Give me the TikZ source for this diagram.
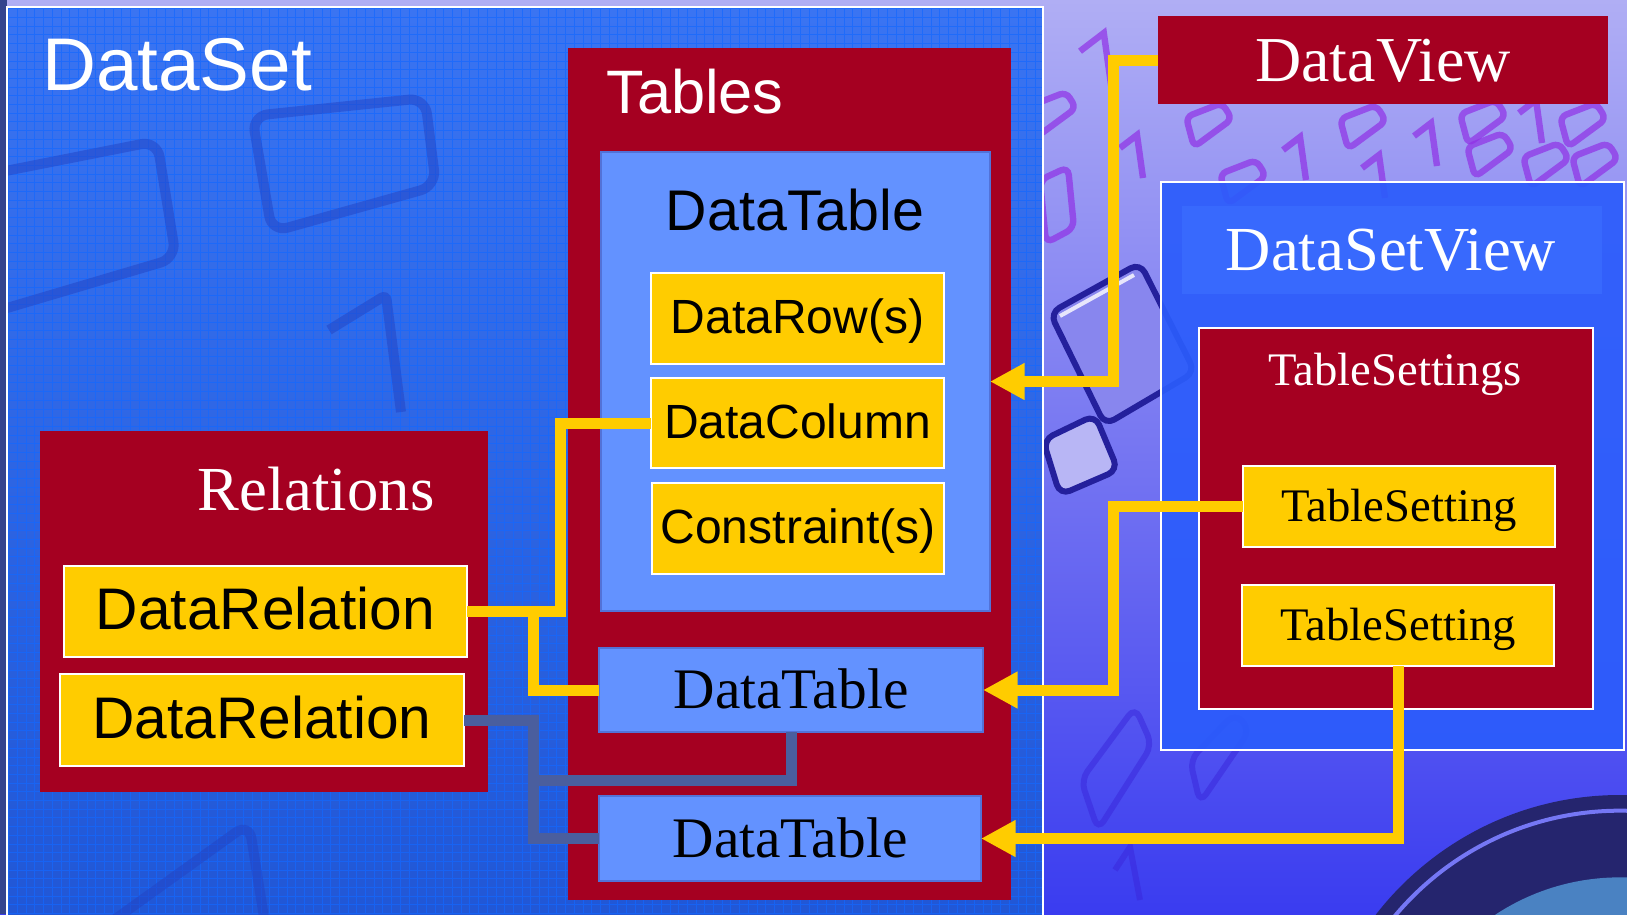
\documentclass[tikz,border=0pt]{standalone}
\usepackage{fontspec}
\setmainfont{Liberation Serif}
\newfontfamily\arialfont{Liberation Sans}
\usetikzlibrary{arrows.meta}

\definecolor{boxred}{HTML}{A50021}
\definecolor{gold}{HTML}{FFCC00}
\definecolor{paleblue}{HTML}{6392FF}
\definecolor{edgeblue}{HTML}{5272D8}
\definecolor{linkgray}{HTML}{4A5E9E}
\definecolor{lavtop}{HTML}{B0AEF4}
\definecolor{lavmid}{HTML}{8A88F2}
\definecolor{violetlow}{HTML}{3A3CF0}
\definecolor{setblue}{HTML}{3A74F2}
\definecolor{setbluelow}{HTML}{2157D6}
\definecolor{gridblue}{HTML}{1468FF}
\definecolor{edgestrip}{HTML}{34448E}
\definecolor{digitblue}{HTML}{2243C4}
\definecolor{digitpurple}{HTML}{9030E6}
\definecolor{digitviolet}{HTML}{3A28DC}
\definecolor{viewblue}{HTML}{2B5CFB}
\definecolor{viewband}{HTML}{3C70FF}
\definecolor{diskdark}{HTML}{25256E}
\definecolor{diskface}{HTML}{4A82C2}
\definecolor{diskettefill}{HTML}{8886EE}
\definecolor{disketteline}{HTML}{24209C}

\newcommand\sansat[1]{\arialfont\fontsize{#1}{#1}\selectfont}
\newcommand\serifat[1]{\rmfamily\fontsize{#1}{#1}\selectfont}

\tikzset{
  glyphline/.style={draw=digitpurple, line width=4.8pt, opacity=0.7},
  zeroglyph/.pic={\draw[glyphline, rounded corners=5pt]
      (0,14) -- (36,0) -- (46,16) -- (8,44) -- cycle;},
  oneglyph/.pic={\draw[glyphline]
      (0,13) -- (17,0) -- (23,43);}
}

\begin{document}
\begin{tikzpicture}[x=0.75pt,y=-0.75pt,
  px/.style 2 args={minimum width=#1*0.75pt, minimum height=#2*0.75pt, inner sep=0pt, outer sep=0pt},
  redbox/.style={fill=boxred},
  goldbox/.style={fill=gold, draw=white, line width=1.5pt},
  tablebox/.style={fill=paleblue, draw=edgeblue, line width=1.5pt},
  whitetext/.style={text=white, inner sep=0pt},
  link/.style={draw=gold, line width=8.25pt},
  linkarrow/.style={link, -{Triangle[length=26pt,width=26pt]}},
  relink/.style={draw=linkgray, line width=8.25pt},
  bgdigit/.style={draw=digitblue, line width=7.5pt, rounded corners=12pt, opacity=0.5},
]
\useasboundingbox (0,0) rectangle (1627,914);

% ---- backdrop ----
\shade[top color=lavtop, middle color=lavmid, bottom color=violetlow] (0,0) rectangle (1627,914);
\begin{scope}
  \clip (1043,0) rectangle (1627,914);
  % disc in the lower right corner
  \fill[diskdark] (1620,1104) circle[radius=231.75pt];
  \draw[violetlow!70!white, line width=3pt] (1620,1104) circle[radius=220pt];
  \fill[diskface] (1620,1104) circle[radius=170pt];
  % binary digits under the DataView box
  \foreach \x/\y in {1186/103,1340/105,1460/100,1560/103,1467/133,1523/143,1572/143,1220/160,1030/92}
    \pic at (\x,\y) {zeroglyph};
  \foreach \x/\y in {1283/137,1414/123,1519/100,1362/155,1120/135}
    \pic at (\x,\y) {oneglyph};
  \pic[scale=1.4] at (1080,33) {oneglyph};
  \draw[glyphline, rounded corners=6pt] (1040,180) -- (1068,167) -- (1074,228) -- (1046,243) -- cycle;
  % faint digits in the lower part
  \draw[draw=digitviolet, line width=4.5pt, opacity=0.55, rounded corners=8pt]
    (1081,780) -- (1135,707) -- (1152,745) -- (1098,830) -- cycle;
  \draw[draw=digitviolet, line width=4.5pt, opacity=0.55, rounded corners=8pt]
    (1190,760) -- (1235,713) -- (1250,730) -- (1200,803) -- cycle;
  \draw[draw=digitviolet, line width=4.5pt, opacity=0.55]
    (1115,870) -- (1130,847) -- (1140,900);
  % diskette
  \filldraw[fill=diskettefill, draw=disketteline, line width=4.5pt, rounded corners=8pt]
    (1050,313) -- (1140,263) -- (1195,372) -- (1105,425) -- cycle;
  \draw[white, opacity=0.8, line width=3pt] (1060,316) -- (1134,275);
  \filldraw[fill=diskettefill!60!white, draw=disketteline, line width=4.5pt, rounded corners=8pt]
    (1043,440) -- (1095,415) -- (1118,470) -- (1060,495) -- cycle;
\end{scope}

% ---- DataSet area ----
\fill[edgestrip] (0,0) rectangle (7,914);
\shade[top color=setblue, bottom color=setbluelow] (7,7) rectangle (1043,914);
\draw[gridblue, line width=0.5pt, step=6.525pt, opacity=0.7] (7,914) grid (1043,7);
\begin{scope}
  \clip (7,7) rectangle (1043,914);
  \draw[bgdigit] (-20,176) -- (157,141) -- (176,258) -- (-20,316) -- cycle;
  \draw[bgdigit] (252,116) -- (425,98) -- (436,186) -- (272,232) -- cycle;
  \draw[bgdigit, rounded corners=4pt] (329,330) -- (386,295) -- (401,412);
  \draw[bgdigit] (100,930) -- (249,823) -- (266,930);
\end{scope}

\node[draw=white, line width=1.2pt, px={1036}{940}] (dataset) at (525,477) {};
\node[whitetext, anchor=base west, font=\sansat{56}] (datasetlabel) at (42,90) {DataSet};

% ---- Tables ----
\node[redbox, px={443}{852}] (tables) at (789.5,474) {};
\node[whitetext, anchor=base west, font=\sansat{46}] (tableslabel) at (606,113) {Tables};

\node[tablebox, px={389}{459}] (maintable) at (795.5,381.5) {};
\node[anchor=base, inner sep=0pt, font=\sansat{43}] (maintablelabel) at (795,230) {DataTable};
\node[goldbox, px={293}{91}, font=\sansat{36}, text height=26pt, text depth=3.5pt] (rows) at (797.5,318.5) {DataRow(s)};
\node[goldbox, px={293}{90}, font=\sansat{36}, text height=26pt, text depth=3.5pt] (cols) at (797.5,423) {DataColumn};
\node[goldbox, px={292}{91}, font=\sansat{36}, text height=26pt, text depth=3.5pt] (cons) at (798,528.5) {Constraint(s)};

\node[tablebox, px={384}{84}, font=\serifat{43}, text height=28.4pt, text depth=0pt] (dt2) at (791,690) {DataTable};
\node[tablebox, px={382}{85}, font=\serifat{43}, text height=28.4pt, text depth=0pt] (dt3) at (790,838.5) {DataTable};

% ---- Relations ----
\node[redbox, px={448}{361}] (relations) at (264,611.5) {};
\node[whitetext, anchor=base, font=\serifat{47}] (relationslabel) at (316,510) {Relations};
\node[goldbox, px={403}{91}, font=\sansat{44}, text height=31.7pt, text depth=4.4pt] (dr1) at (265.5,611.5) {DataRelation};
\node[goldbox, px={404}{92}, font=\sansat{44}, text height=31.7pt, text depth=4.4pt] (dr2) at (262,720) {DataRelation};

% ---- DataView ----
\node[redbox, px={450}{88}, text=white, font=\serifat{48}, text height=31.7pt, text depth=0pt] (dataview) at (1383,60) {DataView};

% ---- DataSetView ----
\node[fill=viewblue, fill opacity=0.92, draw=white, line width=1.5pt, px={463}{568}] (dsview) at (1392.5,466) {};
\node[fill=viewband, fill opacity=0.6, px={420}{88}] (viewband) at (1392,250) {};
\node[whitetext, anchor=base, font=\serifat{47}] (dsviewlabel) at (1391,270) {DataSetView};
\node[redbox, draw=white, line width=1.5pt, px={394}{381}] (settings) at (1396,518.5) {};
\node[whitetext, anchor=base, font=\serifat{35}] (settingslabel) at (1395,385) {TableSettings};
\node[goldbox, px={312}{81}, font=\serifat{35}, text height=23.1pt, text depth=0pt] (ts1) at (1399,506.5) {TableSetting};
\node[goldbox, px={312}{81}, font=\serifat{35}, text height=23.1pt, text depth=0pt] (ts2) at (1398,625.5) {TableSetting};

% ---- connectors ----
\coordinate (colbend) at (560,0);
\coordinate (relbus) at (533,0);
\coordinate (relfork) at (533,780);
\coordinate (viewbus) at (1113,0);

\draw[link] (dr1.east) -| (colbend |- cols.west) -- (cols.west);
\draw[link] (relbus |- dr1.east) |- (dt2.west);
\draw[relink] (dr2.east) -| (relbus |- dt3.west) -- (dt3.west);
\draw[relink] (relfork) -| (dt2.south);

\draw[linkarrow] (dataview.west) -| (viewbus |- maintable.east) -- (maintable.east);
\draw[linkarrow] (ts1.west) -| (viewbus |- dt2.east) -- (dt2.east);
\draw[linkarrow] (ts2.south) |- (dt3.east);
\end{tikzpicture}
\end{document}
